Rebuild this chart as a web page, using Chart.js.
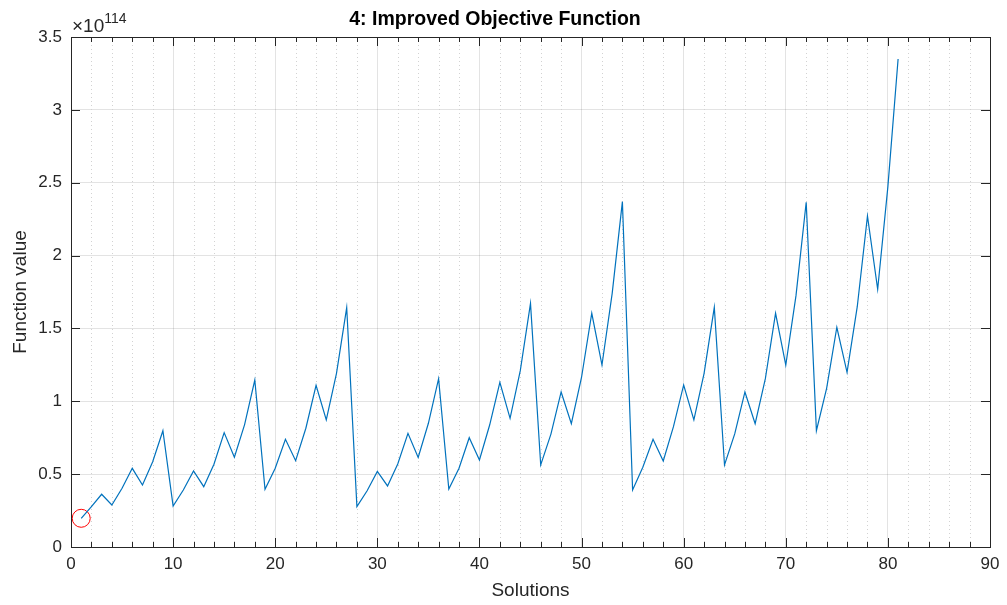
<!DOCTYPE html>
<html>
<head>
<meta charset="utf-8">
<title>4: Improved Objective Function</title>
<script src="https://cdn.jsdelivr.net/npm/chart.js@4.4.1/dist/chart.umd.min.js"></script>
<style>
  html, body { margin: 0; padding: 0; background: #fff; }
  canvas { display: block; }
</style>
</head>
<body>
<canvas id="objChart" width="1007" height="605"></canvas>
<script>
// valores, en unidades de 10^114
var functionValue = [
    0.197, 0.277, 0.362, 0.288, 0.403, 0.540, 0.425, 0.585, 0.798,
    0.281, 0.391, 0.522, 0.414, 0.568, 0.785, 0.616, 0.840, 1.146,
    0.396, 0.540, 0.739, 0.592, 0.815, 1.110, 0.872, 1.192, 1.643,
    0.277, 0.386, 0.519, 0.419, 0.570, 0.780, 0.615, 0.849, 1.155,
    0.398, 0.540, 0.750, 0.597, 0.837, 1.130, 0.883, 1.210, 1.672,
    0.563, 0.775, 1.064, 0.846, 1.165, 1.604, 1.249, 1.741, 2.370,
    0.391, 0.547, 0.739, 0.590, 0.826, 1.112, 0.872, 1.192, 1.645,
    0.563, 0.776, 1.064, 0.846, 1.155, 1.604, 1.249, 1.725, 2.366,
    0.798, 1.089, 1.508, 1.199, 1.649, 2.272, 1.769, 2.473, 3.349
];
var bestSolution = [1];        // punto marcado con el circulo rojo
var exponent = 114;
var xTicks = [0, 10, 20, 30, 40, 50, 60, 70, 80, 90];
var yTicks = [0, 0.5, 1, 1.5, 2, 2.5, 3, 3.5];

var axisColor = '#262626';
var fontFamily = '"Liberation Sans", Arial, Helvetica, sans-serif';

var lineData = functionValue.map(function (v, i) { return { x: i + 1, y: v }; });
var markerData = bestSolution.map(function (s) { return { x: s, y: functionValue[s - 1] }; });

// ejes estilo MATLAB: rejilla menor punteada, ticks hacia dentro, caja y exponente
var matlabAxes = {
    id: 'matlabAxes',
    beforeDatasetsDraw: function (chart) {
        var ctx = chart.ctx, a = chart.chartArea, x = chart.scales.x;
        ctx.save();
        ctx.strokeStyle = '#d2d2d2';
        ctx.lineWidth = 1;
        ctx.setLineDash([1, 3]);
        for (var v = x.min; v <= x.max; v += 2) {
            if (v % 10 === 0) continue;
            var px = Math.round(x.getPixelForValue(v)) + 0.5;
            ctx.beginPath();
            ctx.moveTo(px, a.top);
            ctx.lineTo(px, a.bottom);
            ctx.stroke();
        }
        ctx.restore();
    },
    afterDatasetsDraw: function (chart) {
        var ctx = chart.ctx, a = chart.chartArea, x = chart.scales.x, y = chart.scales.y;
        ctx.save();
        ctx.strokeStyle = axisColor;
        ctx.lineWidth = 1;
        ctx.beginPath();
        for (var v = x.min; v <= x.max; v += 2) {
            var px = Math.round(x.getPixelForValue(v)) + 0.5;
            var len = (v % 10 === 0) ? 9 : 5;
            ctx.moveTo(px, a.bottom); ctx.lineTo(px, a.bottom - len);
            ctx.moveTo(px, a.top); ctx.lineTo(px, a.top + len);
        }
        yTicks.forEach(function (t) {
            var py = Math.round(y.getPixelForValue(t)) + 0.5;
            ctx.moveTo(a.left, py); ctx.lineTo(a.left + 9, py);
            ctx.moveTo(a.right, py); ctx.lineTo(a.right - 9, py);
        });
        ctx.stroke();
        ctx.strokeRect(Math.round(a.left) + 0.5, Math.round(a.top) + 0.5,
            Math.round(a.right - a.left), Math.round(a.bottom - a.top));

        // etiqueta del exponente
        ctx.fillStyle = axisColor;
        ctx.textBaseline = 'alphabetic';
        ctx.textAlign = 'left';
        ctx.font = '19px ' + fontFamily;
        var base = '\u00d710';
        ctx.fillText(base, a.left + 1, a.top - 5);
        var w = ctx.measureText(base).width;
        ctx.font = '14px ' + fontFamily;
        ctx.fillText(String(exponent), a.left + 1 + w, a.top - 14);
        ctx.restore();
    }
};

var ctx = document.getElementById('objChart').getContext('2d');
var objChart = new Chart(ctx, {
    type: 'line',
    data: {
        datasets: [{
            label: 'Function value',
            data: lineData,
            borderColor: '#0072BD',
            borderWidth: 1.2,
            pointRadius: 0,
            fill: false,
            tension: 0
        }, {
            label: 'Best',
            data: markerData,
            showLine: false,
            pointStyle: 'circle',
            pointRadius: 9,
            borderColor: '#ff0000',
            borderWidth: 1,
            backgroundColor: 'rgba(0,0,0,0)'
        }]
    },
    options: {
        responsive: false,
        animation: false,
        layout: { padding: { left: 0, right: 17, top: 0, bottom: 0 } },
        plugins: {
            legend: { display: false },
            tooltip: { enabled: false },
            title: {
                display: true,
                text: '4: Improved Objective Function',
                color: '#000',
                font: { family: fontFamily, size: 19.5, weight: 'bold' },
                padding: { top: 8, bottom: 5.6 }
            }
        },
        scales: {
            x: {
                type: 'linear',
                min: 0,
                max: 90,
                afterFit: function (s) { s.height = 58; },
                afterBuildTicks: function (s) { s.ticks = xTicks.map(function (v) { return { value: v }; }); },
                ticks: {
                    color: axisColor,
                    font: { family: fontFamily, size: 17 },
                    padding: 7,
                    maxRotation: 0,
                    autoSkip: false
                },
                grid: { color: 'rgba(38,38,38,0.13)', drawTicks: false },
                border: { display: true, color: axisColor, width: 1 },
                title: {
                    display: true,
                    text: 'Solutions',
                    color: axisColor,
                    font: { family: fontFamily, size: 19 },
                    padding: { top: 0, bottom: 3 }
                }
            },
            y: {
                type: 'linear',
                min: 0,
                max: 3.5,
                afterFit: function (s) { s.width = 71; },
                afterBuildTicks: function (s) { s.ticks = yTicks.map(function (v) { return { value: v }; }); },
                ticks: {
                    color: axisColor,
                    font: { family: fontFamily, size: 17 },
                    padding: 9,
                    callback: function (v) { return String(+v.toFixed(1)); }
                },
                grid: { color: 'rgba(38,38,38,0.13)', drawTicks: false },
                border: { display: true, color: axisColor, width: 1 },
                title: {
                    display: true,
                    text: 'Function value',
                    color: axisColor,
                    font: { family: fontFamily, size: 19 },
                    padding: { top: 9, bottom: 0 }
                }
            }
        }
    },
    plugins: [matlabAxes]
});
</script>
</body>
</html>
